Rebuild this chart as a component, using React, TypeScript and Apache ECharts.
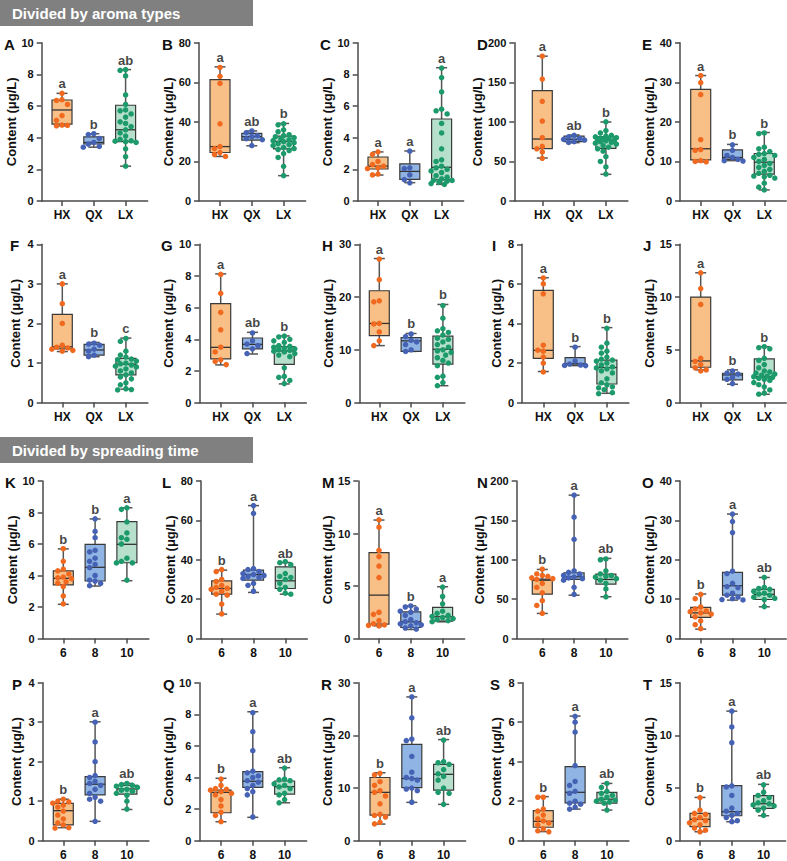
import React, { useEffect, useRef } from 'react';
import * as echarts from 'echarts';

// ---------------- DATA ----------------
const aromaCategories = ['HX', 'QX', 'LX'];
const timeCategories = ['6', '8', '10'];
const panelIds = ['A', 'B', 'C', 'D', 'E', 'F', 'G', 'H', 'I', 'J', 'K', 'L', 'M', 'N', 'O', 'P', 'Q', 'R', 'S', 'T'];
const yMaxList = [10, 80, 10, 200, 40, 4, 10, 30, 8, 15, 10, 80, 15, 200, 40, 4, 10, 30, 8, 15];
const yStepList = [2, 20, 2, 50, 10, 1, 2, 10, 2, 5, 2, 20, 5, 50, 10, 1, 2, 10, 2, 5];

// box stats: [min, Q1, median, Q3, max]
const boxA = [[4.75, 4.85, 5.75, 6.38, 6.8], [3.4, 3.6, 3.7, 4.05, 4.25], [2.2, 3.75, 4.5, 6.05, 8.3]];
const ptsA = [[6.8, 6.4, 6.35, 6.1, 5.4, 5.1, 4.8, 4.78, 4.75], [4.25, 4.2, 3.95, 3.7, 3.6, 3.45, 3.4], [8.3, 8.25, 7.9, 6.7, 6.1, 5.75, 5.7, 5.5, 5.3, 5.0, 4.9, 4.7, 4.5, 4.3, 4.1, 3.9, 3.8, 3.78, 3.75, 3.7, 3.3, 2.8, 2.2]];
const letA = ['a', 'b', 'ab'];

const boxB = [[22.5, 24.5, 27.5, 61.3, 67.8], [27.9, 30.8, 32.5, 34.2, 35.4], [12.8, 26.3, 30.1, 32.8, 39.2]];
const ptsB = [[67.5, 63, 59.5, 39, 27.5, 26.5, 24.5, 23.5, 22.5], [35.4, 34.5, 33, 32.5, 31.5, 31, 28], [39, 38.5, 36, 35, 33.5, 33, 32.5, 32, 31.5, 31, 30.5, 30, 29.5, 29, 28.5, 28, 27, 26.5, 26, 25.5, 24, 22, 17.5, 12.8]];
const letB = ['a', 'ab', 'b'];

const boxC = [[1.64, 2.02, 2.2, 2.78, 3.1], [1.16, 1.37, 1.87, 2.34, 3.16], [1.05, 1.33, 2.13, 5.18, 8.42]];
const ptsC = [[3.1, 2.95, 2.5, 2.3, 2.2, 2.1, 2.05, 1.7, 1.65], [3.15, 2.1, 2.05, 1.65, 1.35, 1.15], [8.4, 7.8, 6.9, 5.8, 5.7, 5.5, 4.9, 4.3, 3.3, 2.6, 2.5, 2.2, 2.1, 2.0, 1.9, 1.8, 1.6, 1.5, 1.4, 1.3, 1.3, 1.25, 1.2, 1.1, 1.05]];
const letC = ['a', 'a', 'a'];

const boxD = [[54.3, 66.1, 78.3, 139.4, 183], [73.7, 75, 78, 82, 83.4], [33.7, 66.5, 77, 81.3, 99.8]];
const ptsD = [[183, 154, 126, 101, 80, 69, 66, 62, 54], [83, 81, 79, 78, 77, 75, 74], [100, 89, 86, 83, 82, 81, 80, 79.5, 79, 78, 77.5, 77, 76, 75, 74, 73, 72, 70, 68, 66, 63, 56, 50, 43, 34]];
const letD = ['a', 'ab', 'b'];

const boxE = [[9.9, 10.4, 13.2, 28.2, 31.7], [10.2, 10.5, 11.0, 12.9, 14.3], [2.8, 6.8, 9.8, 12.0, 17.3]];
const ptsE = [[31.7, 29.9, 26.9, 15.5, 13.0, 12.8, 10.2, 10.0, 9.9], [14.2, 12.8, 11.5, 11, 10.5, 10.2, 10.1], [17.2, 17.0, 13.6, 13.2, 12.5, 12, 11.8, 11.5, 11, 10.5, 10, 9.5, 9, 8.5, 8, 7.5, 7, 6.5, 6.3, 6.1, 5.8, 4.5, 3.5, 2.8]];
const letE = ['a', 'b', 'b'];

const boxF = [[1.29, 1.36, 1.41, 2.23, 3.0], [1.16, 1.2, 1.33, 1.47, 1.52], [0.34, 0.7, 0.97, 1.12, 1.63]];
const ptsF = [[3.0, 2.5, 2.0, 1.45, 1.4, 1.38, 1.35, 1.32, 1.3], [1.5, 1.48, 1.45, 1.35, 1.3, 1.2, 1.16], [1.62, 1.55, 1.3, 1.2, 1.15, 1.1, 1.08, 1.05, 1.0, 0.98, 0.95, 0.92, 0.9, 0.85, 0.8, 0.75, 0.7, 0.65, 0.6, 0.5, 0.45, 0.35, 0.33, 0.32]];
const letF = ['a', 'b', 'c'];

const boxG = [[2.38, 2.76, 3.49, 6.25, 8.13], [3.07, 3.39, 3.68, 4.08, 4.44], [1.18, 2.42, 3.26, 3.54, 4.21]];
const ptsG = [[8.1, 6.9, 5.7, 4.6, 3.5, 3.2, 2.7, 2.6, 2.4], [4.4, 3.9, 3.7, 3.6, 3.4, 3.1], [4.2, 4.15, 4.0, 3.9, 3.8, 3.6, 3.55, 3.5, 3.45, 3.4, 3.35, 3.3, 3.25, 3.2, 3.1, 3.0, 2.9, 2.2, 1.65, 1.6, 1.4, 1.2]];
const letG = ['a', 'ab', 'b'];

const boxH = [[10.8, 12.7, 15.0, 21.2, 27.3], [9.7, 9.7, 11.7, 12.3, 13.1], [3.2, 7.3, 10.1, 12.6, 18.6]];
const ptsH = [[27.2, 23.3, 19.3, 19.1, 15.0, 14.9, 13.4, 11.7, 10.8], [13, 12.5, 11.8, 11.5, 11, 10, 9.7], [18.4, 16, 14, 13.6, 13.3, 12.8, 12.2, 12, 11.5, 11, 10.5, 10, 9.8, 9.5, 9, 8.5, 8, 7.5, 7, 5, 4.8, 3.8, 3.2]];
const letH = ['a', 'b', 'b'];

const boxI = [[1.57, 2.24, 2.64, 5.67, 6.31], [1.87, 1.9, 1.97, 2.27, 2.83], [0.47, 0.94, 1.77, 2.15, 3.79]];
const ptsI = [[6.3, 6.0, 5.5, 2.9, 2.65, 2.6, 2.3, 2.0, 1.55], [2.8, 2.1, 1.95, 1.9, 1.88, 1.87], [3.75, 3.0, 2.8, 2.6, 2.5, 2.3, 2.2, 2.15, 2.1, 2.0, 1.9, 1.8, 1.75, 1.7, 1.6, 1.5, 1.2, 1.0, 0.9, 0.8, 0.75, 0.65, 0.5, 0.45]];
const letI = ['a', 'b', 'b'];

const boxJ = [[3.1, 3.35, 3.95, 10.0, 12.3], [1.74, 2.15, 2.62, 2.78, 3.1], [0.79, 2.4, 2.46, 4.14, 5.3]];
const ptsJ = [[12.3, 10.8, 9.3, 4.2, 3.9, 3.6, 3.3, 3.1, 3.0], [3.0, 2.8, 2.7, 2.4, 2.2, 1.8], [5.3, 5.2, 5.1, 4.2, 4.0, 3.6, 3.3, 3.0, 2.9, 2.8, 2.7, 2.6, 2.5, 2.45, 2.4, 2.3, 2.2, 2.1, 1.9, 1.7, 1.5, 1.2, 0.9, 0.8]];
const letJ = ['a', 'b', 'b'];

const boxK = [[2.17, 3.4, 3.82, 4.3, 5.69], [3.33, 3.65, 4.52, 5.98, 7.59], [3.67, 4.81, 5.98, 7.42, 8.3]];
const ptsK = [[5.7, 4.9, 4.4, 4.3, 4.1, 3.9, 3.85, 3.8, 3.6, 3.5, 3.3, 2.7, 2.2], [7.6, 6.8, 6.4, 5.6, 5.5, 5.1, 4.9, 4.7, 4.5, 4.0, 3.7, 3.65, 3.5, 3.35], [8.3, 8.2, 7.4, 6.7, 6.4, 6.3, 6.0, 5.1, 4.9, 4.8, 4.8, 3.7]];
const letK = ['b', 'b', 'a'];

const boxL = [[12.4, 22.5, 25.4, 29.3, 34.7], [23.4, 29.7, 32.5, 34.7, 67.5], [22.5, 25.4, 29.3, 36.4, 38.6]];
const ptsL = [[35, 34, 30, 29, 27, 26, 25.5, 25, 24, 22.5, 22, 17.5, 12.5], [67.5, 63.5, 35.5, 35, 34, 33, 32.5, 32, 31.5, 31, 30.5, 28, 27, 24], [39, 38.5, 37.5, 33, 31.5, 31, 30, 28, 26, 25, 23, 22.5]];
const letL = ['b', 'a', 'ab'];

const boxM = [[1.21, 1.37, 4.13, 8.17, 11.28], [0.86, 1.05, 1.59, 2.54, 3.11], [1.59, 1.65, 2.07, 2.96, 4.93]];
const ptsM = [[11.3, 10.6, 8.4, 7.8, 6.9, 5.8, 2.5, 2.3, 1.7, 1.4, 1.3, 1.25, 1.2], [3.1, 3.0, 2.8, 2.6, 2.5, 2.2, 1.8, 1.6, 1.5, 1.4, 1.3, 1.2, 1.0, 0.9], [4.9, 4.0, 3.3, 2.6, 2.4, 2.2, 2.1, 2.0, 1.9, 1.8, 1.7, 1.6]];
const letM = ['a', 'b', 'a'];

const boxN = [[31.8, 56.4, 74, 75.5, 87.7], [55, 75, 78.4, 83.5, 182], [53, 69, 75, 81.8, 101.7]];
const ptsN = [[88, 82, 80, 79, 77, 76, 75, 70, 65, 58, 48, 42, 32], [182, 154, 126, 86, 84, 82, 80, 78, 77, 76, 74, 65, 56], [101, 100, 86, 82, 80, 79, 78, 76, 74, 70, 63, 53]];
const letN = ['b', 'a', 'ab'];

const boxO = [[2.37, 5.34, 6.5, 7.88, 11.3], [9.75, 11.0, 13.4, 16.8, 31.6], [8.05, 9.9, 11.2, 12.5, 15.5]];
const ptsO = [[11.2, 10.1, 8.0, 7.5, 7.0, 6.8, 6.5, 6.2, 5.5, 4.5, 3.5, 2.5], [31.6, 29.7, 26.9, 17.1, 16.5, 14, 13.2, 12.9, 11.5, 11, 10.5, 10.1, 9.9, 9.8], [15.5, 13, 12.7, 12.5, 12, 11.5, 11.3, 11, 10.5, 10.2, 9.9, 8.1]];
const letO = ['b', 'a', 'ab'];

const boxP = [[0.33, 0.4, 0.76, 0.945, 1.05], [0.49, 1.16, 1.43, 1.62, 3.01], [0.79, 1.18, 1.31, 1.4, 1.45]];
const ptsP = [[1.05, 1.0, 0.98, 0.95, 0.9, 0.85, 0.75, 0.65, 0.55, 0.45, 0.4, 0.33, 0.32], [3.0, 2.5, 2.0, 1.65, 1.6, 1.5, 1.45, 1.4, 1.3, 1.2, 1.1, 1.05, 1.0, 0.49], [1.45, 1.42, 1.4, 1.38, 1.35, 1.3, 1.28, 1.25, 1.2, 1.15, 1.0, 0.8]];
const letP = ['b', 'a', 'ab'];

const boxQ = [[1.2, 1.77, 3.06, 3.2, 3.95], [1.48, 3.38, 3.76, 4.37, 8.16], [2.4, 2.95, 3.42, 3.78, 4.62]];
const ptsQ = [[3.9, 3.5, 3.3, 3.25, 3.2, 3.1, 3.0, 2.9, 2.6, 2.2, 1.8, 1.6, 1.2], [8.1, 6.9, 5.7, 4.4, 4.3, 4.1, 4.0, 3.8, 3.7, 3.5, 3.3, 3.1, 2.9, 1.5], [4.6, 3.9, 3.85, 3.8, 3.6, 3.5, 3.4, 3.3, 3.0, 2.9, 2.6, 2.4]];
const letQ = ['b', 'a', 'ab'];

const boxR = [[3.16, 4.87, 9.18, 12.0, 12.9], [7.28, 10.06, 11.8, 18.3, 27.3], [6.9, 9.6, 12.6, 14.5, 19.2]];
const ptsR = [[12.8, 12.5, 11.2, 10.5, 9.5, 9.2, 8.5, 7.0, 5.0, 4.8, 4.5, 3.5, 3.2], [27.3, 23.3, 19.3, 19.0, 16.0, 13.0, 12, 11.8, 11.5, 10, 9.8, 9.5, 7.3], [19.1, 15, 14.8, 14.5, 13.5, 12.7, 12.2, 11.5, 10, 9.2, 9.0, 6.9]];
const letR = ['b', 'a', 'ab'];

const boxS = [[0.46, 0.68, 0.98, 1.52, 2.23], [1.6, 1.92, 2.45, 3.75, 6.31], [1.55, 1.9, 2.1, 2.45, 2.9]];
const ptsS = [[2.2, 2.2, 1.6, 1.5, 1.3, 1.1, 1.0, 0.9, 0.8, 0.6, 0.5, 0.45], [6.3, 6.0, 5.5, 3.8, 3.0, 2.8, 2.5, 2.4, 2.0, 1.9, 1.85, 1.7, 1.6], [2.9, 2.7, 2.5, 2.4, 2.3, 2.2, 2.1, 2.05, 2.0, 1.95, 1.9, 1.55]];
const letS = ['b', 'a', 'ab'];

const boxT = [[0.85, 1.33, 2.03, 2.59, 4.11], [1.8, 2.37, 2.75, 5.22, 12.3], [2.37, 3.07, 3.51, 4.27, 5.35]];
const ptsT = [[4.1, 2.9, 2.6, 2.5, 2.2, 2.0, 1.9, 1.7, 1.5, 1.2, 1.0, 0.85], [12.3, 10.8, 9.3, 5.2, 5.1, 4.3, 3.1, 2.8, 2.6, 2.4, 2.2, 1.9, 1.8], [5.3, 4.6, 4.3, 4.1, 3.8, 3.6, 3.5, 3.4, 3.3, 3.1, 2.9, 2.4]];
const letT = ['b', 'a', 'ab'];

const allBoxes = [boxA, boxB, boxC, boxD, boxE, boxF, boxG, boxH, boxI, boxJ, boxK, boxL, boxM, boxN, boxO, boxP, boxQ, boxR, boxS, boxT];
const allPoints = [ptsA, ptsB, ptsC, ptsD, ptsE, ptsF, ptsG, ptsH, ptsI, ptsJ, ptsK, ptsL, ptsM, ptsN, ptsO, ptsP, ptsQ, ptsR, ptsS, ptsT];
const allLetters = [letA, letB, letC, letD, letE, letF, letG, letH, letI, letJ, letK, letL, letM, letN, letO, letP, letQ, letR, letS, letT];

// ---------------- LAYOUT ----------------
const axisXList = [41.7, 199, 357.7, 514.3, 680, 41.7, 199.3, 359.3, 522, 680, 42.7, 201, 358.3, 516.7, 680, 42.7, 199.3, 358.3, 522.5, 680];
const cat1XList = [62, 220, 378, 542.3, 700.7, 62.3, 220.7, 379.3, 543.3, 700.7, 63.3, 221.7, 379, 542.3, 700.7, 63.3, 221, 380, 543.3, 700];
const letterXList = [4, 162, 320, 477, 642, 10, 161, 322, 492, 643, 5, 162, 322, 477, 642, 12, 163, 321, 490, 643];
const rowTops = [42.7, 244.3, 481, 682.7];
const rowHeights = [158.3, 158.3, 157.5, 158];
const CAT_SP = 31.8;

const FONT = '"Liberation Sans", Arial, Helvetica, sans-serif';
const AXIS_COLOR = '#4a4a4a';
const POINT_COLORS = ['#F0691F', '#4662B5', '#1C9A6B'];
const BOX_COLORS = ['#F8BF86', '#90B5E4', '#B7E0CC'];

function swarm(vals: number[], pxPerUnit: number): number[] {
  const order = vals.map((_, i) => i).sort((a, b) => vals[b] - vals[a]);
  const placed: { x: number; y: number }[] = [];
  const offs = new Array(vals.length).fill(0);
  const cands = [0, -5.5, 5.5, -2.75, 2.75, -8.25, 8.25, -10.5, 10.5];
  const D = 5.4;
  for (const i of order) {
    const y = vals[i] * pxPerUnit;
    let best = 0;
    let bestScore = -1;
    for (const c of cands) {
      let minD = Infinity;
      for (const p of placed) minD = Math.min(minD, Math.hypot(p.x - c, p.y - y));
      if (minD >= D) { best = c; bestScore = Infinity; break; }
      if (minD > bestScore) { bestScore = minD; best = c; }
    }
    placed.push({ x: best, y });
    offs[i] = best;
  }
  return offs;
}

function buildOption(): any {
  const grid: any[] = [];
  const xAxis: any[] = [];
  const yAxis: any[] = [];
  const series: any[] = [];
  const graphic: any[] = [
    { type: 'rect', shape: { x: 0, y: 0, width: 253, height: 26 }, style: { fill: '#808080' }, silent: true },
    { type: 'text', x: 12, y: 13.5, style: { text: 'Divided by aroma types', fill: '#ffffff', font: `bold 15px ${FONT}`, verticalAlign: 'middle', textVerticalAlign: 'middle' } },
    { type: 'rect', shape: { x: 0, y: 437, width: 253, height: 26 }, style: { fill: '#808080' }, silent: true },
    { type: 'text', x: 12, y: 450.5, style: { text: 'Divided by spreading time', fill: '#ffffff', font: `bold 15px ${FONT}`, verticalAlign: 'middle', textVerticalAlign: 'middle' } },
  ];

  panelIds.forEach((pid, i) => {
    const row = Math.floor(i / 5);
    const top = rowTops[row];
    const h = rowHeights[row];
    const ax = axisXList[i];
    const c1 = cat1XList[i];
    const right = c1 + 2 * CAT_SP + 22;
    const cats = i < 10 ? aromaCategories : timeCategories;
    const ymax = yMaxList[i];
    const boxes = allBoxes[i];
    const pts = allPoints[i];
    const letters = allLetters[i];
    const digits = String(ymax).length;
    const nameGap = digits === 1 ? 19.5 : digits === 2 ? 24 : 26;

    grid.push({ left: ax, top, width: right - ax, height: h, containLabel: false });
    xAxis.push({
      type: 'value', gridIndex: i,
      min: 1 - (c1 - ax) / CAT_SP, max: 3 + 22 / CAT_SP,
      axisLine: { show: true, onZero: false, lineStyle: { color: AXIS_COLOR, width: 1.5 } },
      axisTick: { show: true, customValues: [1, 2, 3], length: 5, lineStyle: { color: AXIS_COLOR, width: 1.5 } },
      axisLabel: {
        customValues: [1, 2, 3], margin: 8, color: '#111', fontSize: 12, fontWeight: 'bold', fontFamily: FONT,
        formatter: (v: number) => cats[Math.round(v) - 1] ?? '',
      },
      splitLine: { show: false },
    });
    yAxis.push({
      type: 'value', gridIndex: i, min: 0, max: ymax, interval: yStepList[i],
      name: 'Content (μg/L)', nameLocation: 'middle', nameGap,
      nameTextStyle: { color: '#111', fontSize: 13, fontWeight: 'bold', fontFamily: FONT },
      axisLine: { show: true, lineStyle: { color: AXIS_COLOR, width: 1.5 } },
      axisTick: { show: true, length: 5, lineStyle: { color: AXIS_COLOR, width: 1.5 } },
      axisLabel: { margin: 8, color: '#111', fontSize: 11, fontWeight: 'bold', fontFamily: FONT },
      splitLine: { show: false },
    });

    // boxes
    series.push({
      type: 'custom', xAxisIndex: i, yAxisIndex: i, silent: true,
      data: boxes.map((b, k) => [k + 1, ...b]),
      encode: { x: 0, y: [1, 2, 3, 4, 5] },
      renderItem: (params: any, api: any) => {
        const k = params.dataIndex;
        const x = api.value(0);
        const pMin = api.coord([x, api.value(1)]);
        const pQ1 = api.coord([x, api.value(2)]);
        const pMed = api.coord([x, api.value(3)]);
        const pQ3 = api.coord([x, api.value(4)]);
        const pMax = api.coord([x, api.value(5)]);
        const cx = pMin[0];
        const hw = 10;
        const cw = 5.5;
        const wStyle = { stroke: '#555555', lineWidth: 1.5 };
        return {
          type: 'group',
          children: [
            { type: 'line', shape: { x1: cx, y1: pMax[1], x2: cx, y2: pQ3[1] }, style: wStyle },
            { type: 'line', shape: { x1: cx, y1: pQ1[1], x2: cx, y2: pMin[1] }, style: wStyle },
            { type: 'line', shape: { x1: cx - cw, y1: pMax[1], x2: cx + cw, y2: pMax[1] }, style: wStyle },
            { type: 'line', shape: { x1: cx - cw, y1: pMin[1], x2: cx + cw, y2: pMin[1] }, style: wStyle },
            { type: 'rect', shape: { x: cx - hw, y: pQ3[1], width: 2 * hw, height: pQ1[1] - pQ3[1] }, style: { fill: BOX_COLORS[k], stroke: '#3a3a3a', lineWidth: 1.2 } },
            { type: 'line', shape: { x1: cx - hw, y1: pMed[1], x2: cx + hw, y2: pMed[1] }, style: { stroke: '#333333', lineWidth: 1.3 } },
          ],
        };
      },
      z: 2,
    });

    // points
    const pxPerUnit = h / ymax;
    pts.forEach((vals, k) => {
      const offs = swarm(vals, pxPerUnit);
      series.push({
        type: 'scatter', xAxisIndex: i, yAxisIndex: i, silent: true,
        symbol: 'circle', symbolSize: 5.5,
        itemStyle: { color: POINT_COLORS[k], opacity: 1 },
        data: vals.map((v, j) => [k + 1 + offs[j] / CAT_SP, v]),
        z: 3,
      });
    });

    // significance letters
    series.push({
      type: 'scatter', xAxisIndex: i, yAxisIndex: i, silent: true,
      symbolSize: 0,
      data: boxes.map((b, k) => [k + 1, b[4]]),
      label: {
        show: true, position: 'top', distance: 3,
        formatter: (p: any) => letters[p.dataIndex],
        color: '#111', fontSize: 13, fontWeight: 'bold', fontFamily: FONT,
      },
      z: 4,
    });

    graphic.push({
      type: 'text', x: letterXList[i], y: top + 1.5,
      style: { text: pid, fill: '#111', font: `bold 15px ${FONT}`, verticalAlign: 'middle', textVerticalAlign: 'middle' },
    });
  });

  return {
    animation: false,
    backgroundColor: '#ffffff',
    grid, xAxis, yAxis, series, graphic,
  };
}

export default function App() {
  const ref = useRef<HTMLDivElement>(null);
  useEffect(() => {
    document.body.style.margin = '0';
    if (!ref.current) return;
    const chart = echarts.init(ref.current, undefined, { renderer: 'svg' });
    chart.setOption(buildOption());
    return () => chart.dispose();
  }, []);
  return <div ref={ref} style={{ position: 'absolute', left: 0, top: 0, width: 787, height: 861 }} />;
}
